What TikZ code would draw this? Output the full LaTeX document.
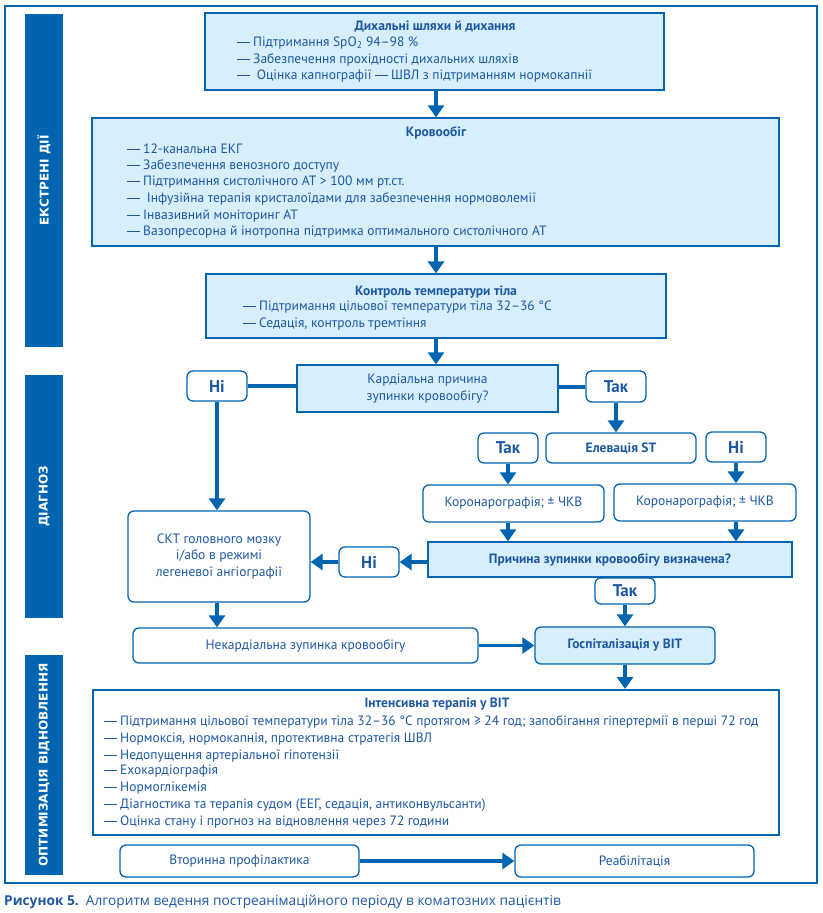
\documentclass[tikz,border=0pt]{standalone}
\usepackage{fontspec}
\setmainfont{PT Sans}
\newfontfamily\capfont{Open Sans}
\newfontfamily\barfont{DejaVu Sans}
\usetikzlibrary{arrows.meta}
\definecolor{mblue}{RGB}{0,100,176}
\definecolor{lfill}{RGB}{214,239,251}
\definecolor{tblue}{RGB}{30,88,163}
\newcommand\mkbox[7]{\node[#6, minimum width={#4-#2}, minimum height={#5-#3}, inner sep=0pt] (#1) at ({(#2+#4)/2},{(#3+#5)/2}) {#7};}
\newcommand\bodyfont{\fontsize{13.5}{16.5}\selectfont}
\newcommand\dsh{\rule[0.26em]{0.92em}{0.065em}}
\tikzset{
  sqbox/.style={draw=mblue, line width=1.3pt, fill=lfill, text=tblue, font=\bodyfont, align=center},
  rbox/.style={draw=mblue, line width=1.3pt, fill=white, rounded corners=6pt, text=tblue, font=\bodyfont, align=center},
  lrbox/.style={rbox, fill=lfill},
  yn/.style={rbox, font=\fontsize{17}{17}\selectfont\bfseries},
  wbox/.style={draw=mblue, line width=2pt, fill=white},
  bar/.style={fill=mblue, draw=none},
  bartxt/.style={text=white, font=\barfont\bfseries\fontsize{12}{12}\selectfont, rotate=90, inner sep=0pt},
  ln/.style={text=tblue, font=\bodyfont, inner sep=0pt, anchor=base west},
  ttl/.style={text=tblue, font=\bodyfont\bfseries, inner sep=0pt, anchor=base},
  arr/.style={draw=mblue, line width=3.6pt, -{Triangle[width=16pt,length=12pt]}},
  con/.style={draw=mblue, line width=4pt},
}
\begin{document}
\begin{tikzpicture}[x=1pt,y=-1pt]
\useasboundingbox (0,0) rectangle (822,913);
% frame
\draw[mblue, line width=1.5pt] (5,6) rectangle (817,883);
% side bars
\mkbox{bar1}{25}{14}{63}{347}{bar}{}
\mkbox{bar2}{25}{375}{63}{618}{bar}{}
\mkbox{bar3}{25}{655}{63}{875}{bar}{}
\node[bartxt] (bar1t) at (bar1.center) {ЕКСТРЕНІ ДІЇ};
\node[bartxt] (bar2t) at (bar2.center) {ДІАГНОЗ};
\node[bartxt] (bar3t) at (bar3.center) {ОПТИМІЗАЦІЯ ВІДНОВЛЕННЯ};
% box 1
\mkbox{b1}{205}{13}{664}{90}{sqbox}{}
\node[ttl] (b1t) at (435,30) {Дихальні шляхи й дихання};
\node[ln] (b1a) at (237,46.7) {\dsh\ Підтримання SpO\textsubscript{2} 94–98 \%};
\node[ln] (b1b) at (237,63) {\dsh\ Забезпечення прохідності дихальних шляхів};
\node[ln] (b1c) at (237,79.7) {\dsh\ \ Оцінка капнографії \dsh\ ШВЛ з підтриманням нормокапнії};
% box 2
\mkbox{b2}{92}{118}{779}{246}{sqbox}{}
\node[ttl] (b2t) at (436,136.5) {Кровообіг};
\node[ln] (b2a) at (127,153) {\dsh\ 12-канальна ЕКГ};
\node[ln] (b2b) at (127,169.7) {\dsh\ Забезпечення венозного доступу};
\node[ln] (b2c) at (127,185.7) {\dsh\ Підтримання систолічного АТ > 100 мм рт.ст.};
\node[ln] (b2d) at (127,202.7) {\dsh\ \ Інфузійна терапія кристалоїдами для забезпечення нормоволемії};
\node[ln] (b2e) at (127,219) {\dsh\ Інвазивний моніторинг АТ};
\node[ln] (b2f) at (127,235.7) {\dsh\ Вазопресорна й інотропна підтримка оптимального систолічного АТ};
% box 3
\mkbox{b3}{206}{274}{666}{338}{sqbox}{}
\node[ttl] (b3t) at (436,295) {Контроль температури тіла};
\node[ln] (b3a) at (243,310.7) {\dsh\ Підтримання цільової температури тіла 32–36 °C};
\node[ln] (b3b) at (243,327.3) {\dsh\ Седація, контроль тремтіння};
% diagnosis
\mkbox{q1}{297}{365}{558}{412}{sqbox}{Кардіальна причина\\зупинки кровообігу?}
\mkbox{ni1}{187}{371}{247}{401}{yn}{Ні}
\mkbox{tak1}{586}{371}{646}{402}{yn}{Так}
\mkbox{tak2}{478}{433}{538}{463}{yn}{Так}
\mkbox{st}{546}{433}{696}{463}{rbox, font=\bodyfont\bfseries}{Елевація ST}
\mkbox{ni2}{706}{432}{766}{462}{yn}{Ні}
\mkbox{kor1}{423}{485}{604}{522}{rbox}{Коронарографія; ± ЧКВ}
\mkbox{kor2}{614}{484}{796}{521}{rbox}{Коронарографія; ± ЧКВ}
\mkbox{q2}{428}{542}{792}{577}{sqbox, font=\bodyfont\bfseries}{Причина зупинки кровообігу визначена?}
\mkbox{ni3}{339}{547}{399}{577}{yn}{Ні}
\mkbox{ckt}{128}{511}{310}{602}{rbox}{СКТ головного мозку\\і/або в режимі\\легеневої ангіографії}
\mkbox{tak3}{595}{578}{655}{604}{yn}{Так}
\mkbox{gosp}{535}{627}{715}{664}{lrbox, font=\bodyfont\bfseries}{Госпіталізація у ВІТ}
\mkbox{nek}{133}{628}{478}{663}{rbox}{Некардіальна зупинка кровообігу}
% intensive
\mkbox{int}{93}{690}{779}{835}{wbox}{}
\node[ttl] (intt) at (437,707.5) {Інтенсивна терапія у ВІТ};
\node[ln] (inta) at (104,725.7) {\dsh\ Підтримання цільової температури тіла 32–36 °C протягом ≥ 24 год; запобігання гіпертермії в перші 72 год};
\node[ln] (intb) at (104,742.3) {\dsh\ Нормоксія, нормокапнія, протективна стратегія ШВЛ};
\node[ln] (intc) at (104,759) {\dsh\ Недопущення артеріальної гіпотензії};
\node[ln] (intd) at (104,774.7) {\dsh\ Ехокардіографія};
\node[ln] (inte) at (104,791.7) {\dsh\ Нормоглікемія};
\node[ln] (intf) at (104,808.3) {\dsh\ Діагностика та терапія судом (ЕЕГ, седація, антиконвульсанти)};
\node[ln] (intg) at (104,825) {\dsh\ Оцінка стану і прогноз на відновлення через 72 години};
\mkbox{vtor}{120}{845}{359}{877}{rbox}{Вторинна профілактика}
\mkbox{reab}{515}{845}{754}{877}{rbox}{Реабілітація}
% caption
\node[text=tblue, font=\capfont\fontsize{13.7}{14}\selectfont, inner sep=0pt, anchor=base west] (cap) at (4,905) {\textbf{Рисунок 5.}\ \ Алгоритм ведення постреанімаційного періоду в коматозних пацієнтів};
% connectors
\coordinate (cx) at (436,0);
\draw[arr] (b1.south -| cx) -- (b2.north -| cx);
\draw[arr] (b2.south -| cx) -- (b3.north -| cx);
\draw[arr] (b3.south -| cx) -- (q1.north -| cx);
\draw[con] (ni1.east) -- (ni1.east -| q1.west);
\draw[con] (tak1.west -| q1.east) -- (tak1.west);
\draw[arr] (tak1.south) -- (tak1.south |- st.north);
\draw[arr] (tak2.south) -- (tak2.south |- kor1.north);
\draw[arr] (ni2.south) -- (ni2.south |- kor2.north);
\draw[arr] (tak2.south |- kor1.south) -- (tak2.south |- q2.north);
\draw[arr] (ni2.south |- kor2.south) -- (ni2.south |- q2.north);
\draw[arr] (ni3.east -| q2.west) -- (ni3.east);
\draw[arr] (ni3.west) -- (ni3.west -| ckt.east);
\draw[arr] (ni1.south) -- (ni1.south |- ckt.north);
\draw[arr] (ckt.south -| ni1.south) -- (nek.north -| ni1.south);
\draw[arr] (tak3.south) -- (tak3.south |- gosp.north);
\draw[arr] (nek.east) -- (nek.east -| gosp.west);
\draw[arr] (gosp.south -| tak3.south) -- (int.north -| tak3.south);
\draw[arr] (vtor.east) -- (reab.west);
\end{tikzpicture}
\end{document}
